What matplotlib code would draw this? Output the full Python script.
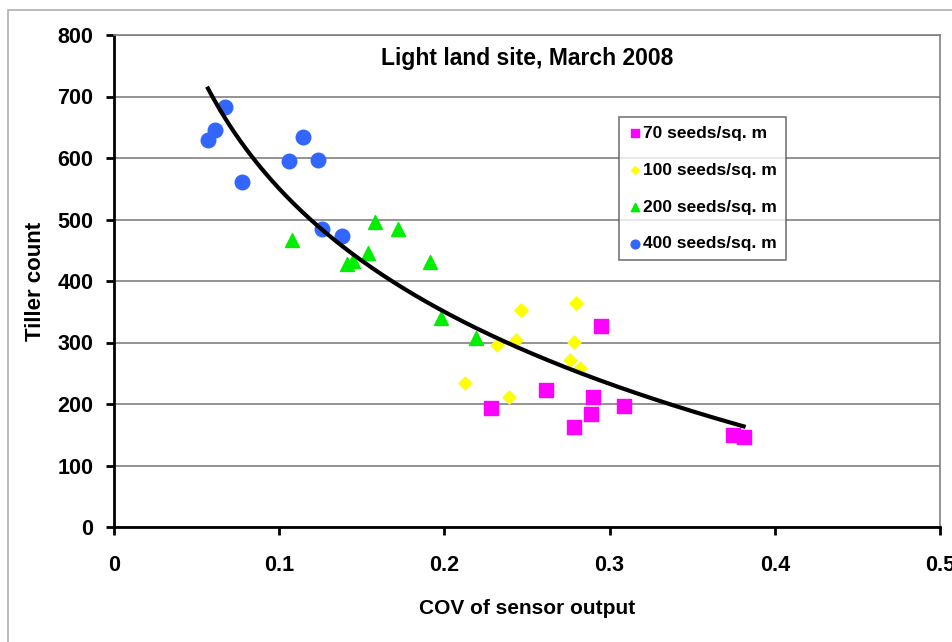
import numpy as np
import matplotlib.pyplot as plt
from matplotlib.patches import Rectangle

plt.rcParams['font.family'] = ['Liberation Sans', 'DejaVu Sans']

# 70 seeds/sq. m
x70 = [0.2946, 0.2618, 0.2285, 0.290, 0.289, 0.2785, 0.3085, 0.3747, 0.3811]
y70 = [327, 223, 193, 212, 184, 162, 196, 150, 146]

# 100 seeds/sq. m
x100 = [0.2465, 0.2795, 0.2436, 0.232, 0.2785, 0.276, 0.282, 0.2127, 0.239]
y100 = [353, 364, 304, 296, 301, 272, 258, 234, 212]

# 200 seeds/sq. m
x200 = [0.108, 0.141, 0.1446, 0.1537, 0.158, 0.172, 0.191, 0.198, 0.219]
y200 = [467, 428, 433, 446, 496, 485, 431, 340, 307]

# 400 seeds/sq. m
x400 = [0.0569, 0.0611, 0.0672, 0.0774, 0.106, 0.1143, 0.1234, 0.1258, 0.138]
y400 = [629, 646, 683, 561, 595, 634, 597, 485, 473]

fig = plt.figure(figsize=(9.53, 6.42), dpi=100)
ax = fig.add_axes([114/953, 1 - 527/642, (940 - 114)/953, (527 - 35)/642])

# outer frame of the chart area
fig.patches.append(Rectangle((8/953, -0.01), 1.0, 1 - 10/642 + 0.01,
                             transform=fig.transFigure, fill=False,
                             edgecolor='#b0b0b0', lw=1.2))

ax.scatter(x70, y70, marker='s', s=110, color='#ff00ff', label='70 seeds/sq. m', zorder=3)
ax.scatter(x100, y100, marker='D', s=45, color='#ffff00', label='100 seeds/sq. m', zorder=3)
ax.scatter(x200, y200, marker='^', s=100, color='#00ee00', label='200 seeds/sq. m', zorder=3)
ax.scatter(x400, y400, marker='o', s=110, color='#3366ff', label='400 seeds/sq. m', zorder=3)

# logarithmic trend line over all points
xa = np.array(x70 + x100 + x200 + x400)
ya = np.array(y70 + y100 + y200 + y400)
b, a = np.polyfit(np.log(xa), ya, 1)
xt = np.linspace(xa.min(), xa.max(), 200)
ax.plot(xt, a + b * np.log(xt), color='black', lw=3, zorder=4)

ax.set_xlim(0, 0.5)
ax.set_ylim(0, 800)
ax.set_xticks([0, 0.1, 0.2, 0.3, 0.4, 0.5])
ax.set_xticklabels(['0', '0.1', '0.2', '0.3', '0.4', '0.5'])
ax.set_yticks(range(0, 801, 100))
ax.yaxis.grid(True, color='#808080', lw=1.2)
ax.set_axisbelow(True)

for s in ['left', 'bottom']:
    ax.spines[s].set_linewidth(2)
    ax.spines[s].set_color('black')
for s in ['top', 'right']:
    ax.spines[s].set_linewidth(1.2)
    ax.spines[s].set_color('#808080')

ax.tick_params(axis='both', direction='out', length=6, width=2, labelsize=15.5)
ax.tick_params(axis='x', pad=14)
ax.tick_params(axis='y', pad=9)
for lab in ax.get_xticklabels() + ax.get_yticklabels():
    lab.set_fontweight('bold')

ax.set_xlabel('COV of sensor output', fontsize=15, fontweight='bold', labelpad=17)
ax.set_ylabel('Tiller count', fontsize=16, fontweight='bold', labelpad=8)
ax.text(0.5, 0.975, 'Light land site, March 2008', transform=ax.transAxes,
        ha='center', va='top', fontsize=16.5, fontweight='bold')

leg = ax.legend(loc='upper left', bbox_to_anchor=((619 - 114)/826, 1 - (117 - 35)/492),
                fontsize=12.5, frameon=True, fancybox=False, edgecolor='#555555',
                handletextpad=0.1, handlelength=0.8, markerscale=0.6,
                borderpad=0.5, labelspacing=1.25, borderaxespad=0)
leg.get_frame().set_linewidth(1.2)
for t in leg.get_texts():
    t.set_fontweight('bold')

fig.savefig('out.png', dpi=100)
